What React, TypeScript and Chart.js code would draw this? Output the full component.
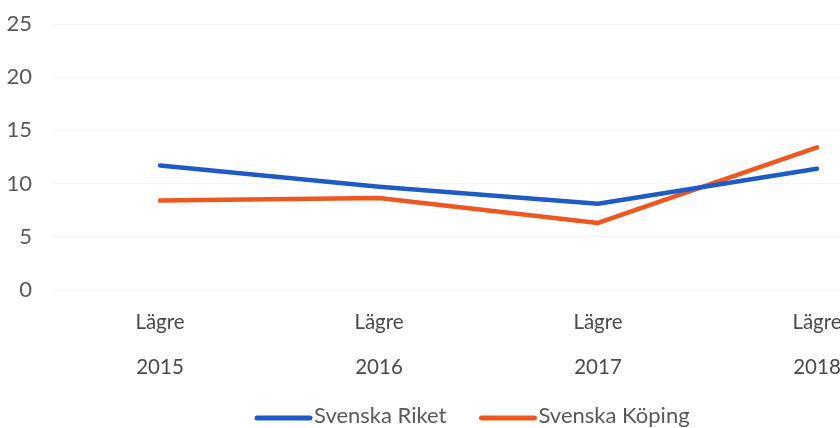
import React, { useEffect, useRef } from "react";
import { Chart, registerables } from "chart.js";

Chart.register(...registerables);

const years = ["2015", "2016", "2017", "2018"];
const levelLabel = "Lägre";
const riket = [11.7, 9.7, 8.1, 11.4];
const koping = [8.4, 8.65, 6.3, 13.4];
const seriesNames = ["Svenska Riket", "Svenska Köping"];
const seriesColors = ["#1f5bc6", "#f0561f"];
const yTicks = [0, 5, 10, 15, 20, 25];

const FONT = "Lato, 'Open Sans', sans-serif";

const legendPlugin = {
  id: "customLegend",
  afterDraw(chart: any) {
    const ctx = chart.ctx;
    const ds = chart.data.datasets;
    ctx.save();
    ctx.font = `22px ${FONT}`;
    ctx.textBaseline = "middle";
    ctx.textAlign = "left";
    const lineW = 57;
    const gap = 2;
    const itemGap = 33;
    let x = 255;
    const y = 416;
    ds.forEach((d: any) => {
      ctx.strokeStyle = d.borderColor;
      ctx.lineWidth = 5;
      ctx.lineCap = "round";
      ctx.beginPath();
      ctx.moveTo(x + 2, y + 2);
      ctx.lineTo(x + lineW - 2, y + 2);
      ctx.stroke();
      ctx.fillStyle = "#595959";
      ctx.fillText(d.label, x + lineW + gap, y);
      x += lineW + gap + ctx.measureText(d.label).width + itemGap;
    });
    ctx.restore();
  },
};

export default function App() {
  const ref = useRef<HTMLCanvasElement | null>(null);
  useEffect(() => {
    if (!ref.current) return;
    const chart = new Chart(ref.current, {
      type: "line",
      data: {
        datasets: [
          {
            label: seriesNames[0],
            data: riket.map((v, i) => ({ x: i, y: v })),
            borderColor: seriesColors[0],
            backgroundColor: seriesColors[0],
            borderWidth: 4.5,
            pointRadius: 0,
            tension: 0,
            borderCapStyle: "round",
            borderJoinStyle: "round",
          },
          {
            label: seriesNames[1],
            data: koping.map((v, i) => ({ x: i, y: v })),
            borderColor: seriesColors[1],
            backgroundColor: seriesColors[1],
            borderWidth: 4.5,
            pointRadius: 0,
            tension: 0,
            borderCapStyle: "round",
            borderJoinStyle: "round",
          },
        ],
      },
      options: {
        animation: false,
        responsive: true,
        maintainAspectRatio: false,
        layout: { padding: { top: 24, right: 0, bottom: 38, left: 0 } },
        plugins: {
          legend: { display: false },
          tooltip: { enabled: false },
        },
        scales: {
          x: {
            type: "linear",
            min: -0.4932,
            max: 3.105,
            grid: { display: false, drawTicks: false },
            border: { display: false },
            ticks: {
              stepSize: 1,
              includeBounds: false,
              autoSkip: false,
              maxRotation: 0,
              padding: 9.5,
              color: "#4a4a4a",
              font: { family: FONT, size: 20.5, lineHeight: 45 / 20.5 },
              callback: (v: any) => {
                const i = Number(v);
                if (Number.isInteger(i) && i >= 0 && i < years.length) {
                  return [levelLabel, years[i]];
                }
                return "";
              },
            },
            afterFit: (s: any) => {
              s.height = 100;
              s.paddingLeft = 0;
              s.paddingRight = 0;
            },
          },
          y: {
            min: yTicks[0],
            max: yTicks[yTicks.length - 1],
            afterBuildTicks: (s: any) => {
              s.ticks = yTicks.map((v) => ({ value: v }));
            },
            grid: { color: "rgba(0,0,0,0.03)", drawTicks: false },
            border: { display: false },
            ticks: {
              padding: 20,
              color: "#595959",
              font: { family: FONT, size: 22 },
            },
            afterFit: (s: any) => {
              s.width = 52;
              s.paddingTop = 0;
              s.paddingBottom = 0;
            },
          },
        },
      },
      plugins: [legendPlugin],
    });
    return () => chart.destroy();
  }, []);
  return (
    <div
      style={{
        position: "fixed",
        left: 0,
        top: 0,
        width: 840,
        height: 428,
        background: "#ffffff",
      }}
    >
      <canvas ref={ref} />
    </div>
  );
}
